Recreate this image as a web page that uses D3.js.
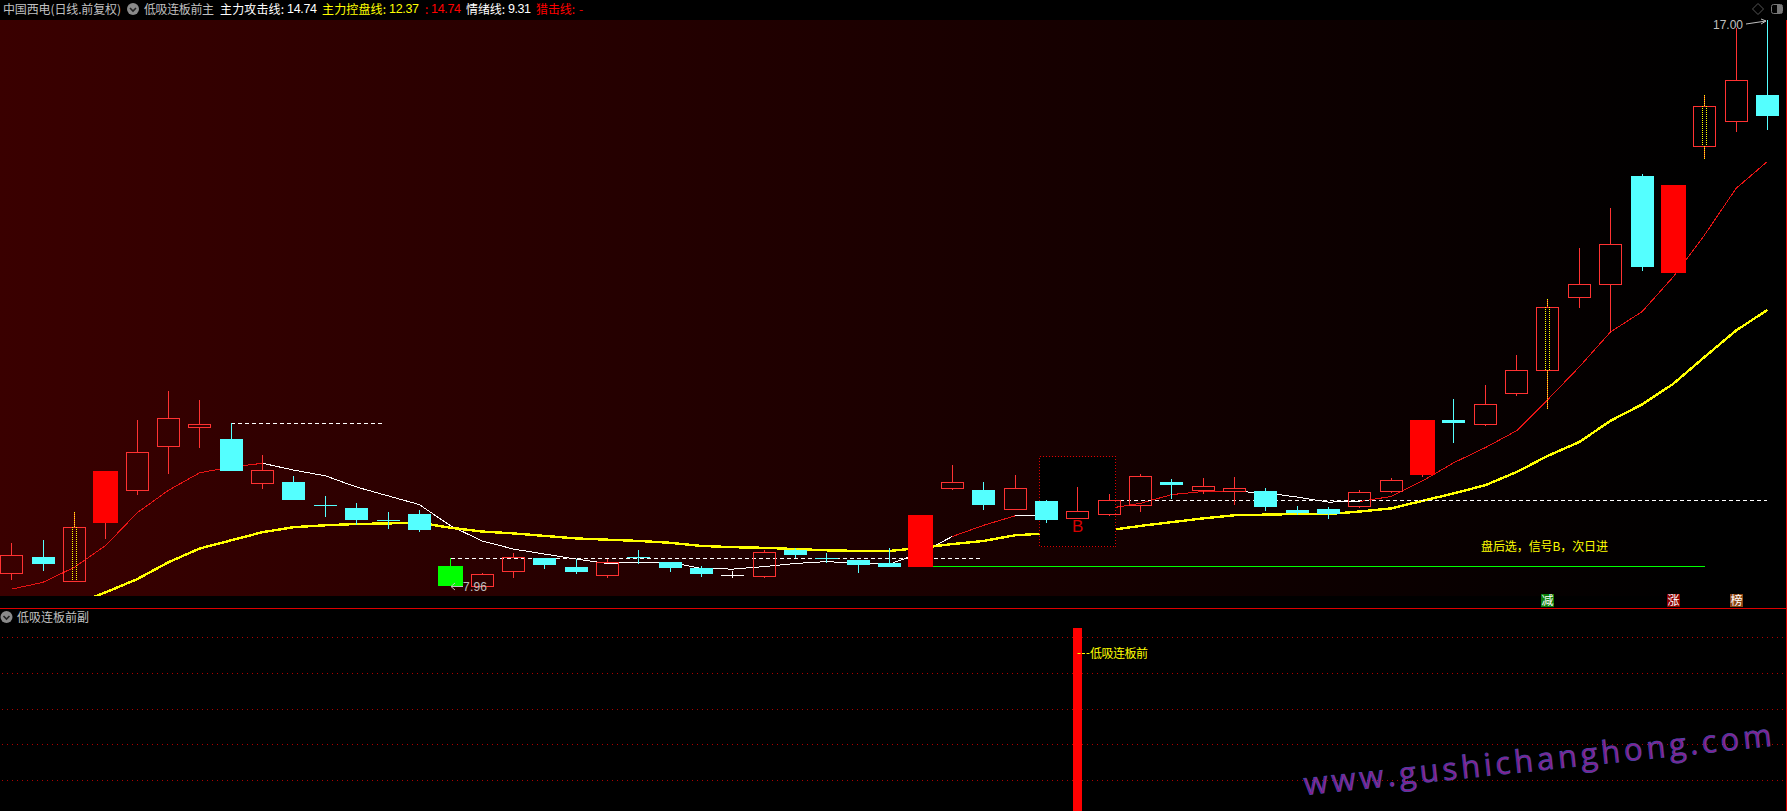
<!DOCTYPE html>
<html>
<head>
<meta charset="utf-8">
<script src="https://cdn.jsdelivr.net/npm/d3@7"></script>
<style>
html,body{margin:0;padding:0;background:#000;overflow:hidden}
svg{display:block}
text{font-family:"Noto Sans CJK SC","Liberation Sans",sans-serif;font-size:12px}
.num{font-family:"Liberation Sans",sans-serif}
</style>
</head>
<body>
<svg id="c" width="1787" height="811"></svg>
<script>
const highs =[8.65,8.69,9.14,9.80,10.61,11.07,10.93,10.56,10.05,9.72,9.40,9.29,9.14,9.17,8.41,8.17,8.49,8.41,8.39,8.39,8.53,8.34,8.28,8.20,8.53,8.57,8.49,8.38,8.57,9.09,9.89,9.62,9.73,9.33,9.54,9.43,9.75,9.67,9.68,9.70,9.53,9.24,9.22,9.49,9.68,10.61,10.95,11.17,11.65,12.54,13.36,14.00,14.54,14.36,15.80,16.87,17.00];
const lows  =[8.07,8.22,8.04,8.73,9.43,9.76,10.18,9.80,9.53,9.33,9.08,8.95,8.89,8.84,7.96,7.96,8.10,8.25,8.17,8.10,8.33,8.20,8.12,8.10,8.10,8.42,8.34,8.18,8.26,8.26,9.51,9.19,9.19,8.98,9.05,9.10,9.16,9.37,9.45,9.27,9.17,9.11,9.05,9.22,9.46,9.72,10.26,10.53,11.01,10.80,12.42,12.02,13.01,12.96,14.80,15.23,15.26];
const bodyTops   =[8.45,8.42,8.90,9.80,10.10,10.64,10.55,10.31,9.81,9.62,9.25,9.21,9.01,9.11,8.28,8.15,8.43,8.41,8.26,8.34,8.42,8.34,8.25,8.13,8.50,8.53,8.40,8.38,8.33,9.09,9.62,9.49,9.52,9.32,9.15,9.33,9.71,9.62,9.55,9.52,9.48,9.17,9.19,9.46,9.65,10.61,10.61,10.86,11.41,12.41,12.79,13.43,14.51,14.36,15.62,16.04,15.80];
const bodyBottoms=[8.17,8.31,8.04,8.97,9.50,10.20,10.50,9.80,9.61,9.33,9.25,9.01,9.01,8.85,7.96,7.96,8.20,8.30,8.18,8.14,8.40,8.25,8.15,8.13,8.12,8.46,8.40,8.30,8.26,8.26,9.53,9.25,9.19,9.01,9.05,9.11,9.26,9.57,9.50,9.48,9.22,9.13,9.11,9.23,9.47,9.73,10.56,10.54,11.05,11.41,12.58,12.79,13.05,12.96,14.99,15.39,15.47];
// 0 = up (hollow red), 1 = down (cyan)
const downDays=[0,1,0,0,0,0,0,1,0,1,1,1,1,1,0,0,0,1,1,0,1,1,1,0,0,1,1,1,1,0,0,1,0,1,0,0,0,1,0,0,1,1,1,0,0,0,1,0,0,0,0,0,1,0,0,0,1];
const limitUpDays=[3,29,45,53];
const highlightDownDays=[14];
const flatDays=[23];
const dottedDays=[2,49,54];

const attackLine=[7.91,8.02,8.26,8.61,9.13,9.49,9.77,9.86,9.92,9.81,9.72,9.54,9.40,9.26,8.92,8.68,8.55,8.47,8.39,8.32,8.34,8.34,8.24,8.23,8.27,8.32,8.35,8.32,8.31,8.49,8.75,8.93,9.08,9.09,9.15,9.20,9.28,9.42,9.47,9.47,9.45,9.38,9.30,9.31,9.39,9.64,9.93,10.17,10.44,10.94,11.46,12.02,12.34,12.90,13.57,14.31,14.74];
const attackWhiteSpans=[[8,30],[32,33],[39,43]];
const controlLine=[null,null,7.66,7.86,8.07,8.34,8.56,8.69,8.82,8.90,8.93,8.95,8.96,8.97,8.89,8.83,8.80,8.76,8.72,8.70,8.68,8.65,8.60,8.58,8.57,8.55,8.53,8.52,8.52,8.57,8.63,8.68,8.77,8.80,8.84,8.85,8.92,8.98,9.04,9.09,9.10,9.11,9.11,9.15,9.20,9.32,9.44,9.57,9.78,10.04,10.26,10.60,10.86,11.19,11.62,12.04,12.37];

const dashedLevels=[[7,11.91,10.56],[14,30.94,8.41],[35.35,56,9.33]];
const supportLevel=[29,54,8.28];
const signalIndex=34;
const signalBoxPrices=[8.60,10.03];
const tagLabels=[[49,"减","#0b7d0b"],[53,"涨","#8b0000"],[55,"榜","#8b4513"]];
const subGridLevels=[0.95,0.755,0.56,0.365,0.17];
const subBarValue=1;
const maxLabel=17.00, minLabel=7.96;

const headerTexts=[
 [3,"中国西电(日线.前复权)","#c0c0c0",118],
 [144,"低吸连板前主","#c0c0c0",70],
 [220,"主力攻击线:","#ffffff",64],
 [287,"14.74","#ffffff",30,1],
 [322,"主力控盘线:","#ffff00",64],
 [389,"12.37","#ffff00",30,1],
 [425,":","#ff0000",3],
 [431,"14.74","#ff0000",30,1],
 [466,"情绪线:","#ffffff",39],
 [508,"9.31","#ffffff",23,1],
 [536,"猎击线:","#ff0000",39],
 [579,"-","#ff0000",4]
];

const svg=d3.select("#c");
const defs=svg.append("defs");
const grad=defs.append("linearGradient").attr("id","bg").attr("gradientUnits","userSpaceOnUse")
  .attr("x1",0).attr("x2",1700).attr("y1",0).attr("y2",0);
grad.append("stop").attr("offset",0).attr("stop-color","#3a0000");
grad.append("stop").attr("offset",1).attr("stop-color","#000000");
defs.append("clipPath").attr("id","plot").append("rect").attr("x",0).attr("y",20).attr("width",1786).attr("height",576);

const x=d3.scaleLinear().domain([0,56]).range([11.8,1767.4]);
const y=d3.scaleLinear().domain([minLabel,maxLabel]).range([586,20]);
const subY=d3.scaleLinear().domain([0,1]).range([811,628]);
const px=i=>Math.floor(x(i))+.5;
const py=v=>Math.round(y(v));

svg.append("rect").attr("width",1787).attr("height",811).attr("fill","#000");
svg.append("rect").attr("x",0).attr("y",20).attr("width",1786).attr("height",576).attr("fill","url(#bg)");

// lines
const plot=svg.append("g").attr("clip-path","url(#plot)");
const lineGen=d3.line().x(d=>x(d[0])).y(d=>y(d[1]));
const isWhite=i=>attackWhiteSpans.some(s=>i>=s[0]&&i<s[1]);
d3.range(attackLine.length-1).forEach(i=>{
  plot.append("path").attr("d",lineGen([[i,attackLine[i]],[i+1,attackLine[i+1]]]))
   .attr("fill","none").attr("stroke",isWhite(i)?"#ffffff":"#e81414").attr("stroke-width",1)
   .attr("shape-rendering","crispEdges");
});
const ctrl=controlLine.map((v,i)=>[i,v]).filter(d=>d[1]!==null);
plot.append("path").attr("d",lineGen(ctrl)).attr("fill","none").attr("stroke","#ffff00")
  .attr("stroke-width",2.4).attr("shape-rendering","crispEdges");

// dashed levels and support
dashedLevels.forEach(d=>{
  plot.append("line").attr("x1",x(d[0])).attr("x2",x(d[1])).attr("y1",py(d[2])+.5).attr("y2",py(d[2])+.5)
   .attr("stroke","#fff").attr("stroke-dasharray","4 3").attr("shape-rendering","crispEdges");
});
plot.append("line").attr("x1",x(supportLevel[0])).attr("x2",x(supportLevel[1]))
  .attr("y1",py(supportLevel[2])+.5).attr("y2",py(supportLevel[2])+.5)
  .attr("stroke","#00ff00").attr("shape-rendering","crispEdges");

// signal box
const boxL=x(signalIndex-1.22), boxR=x(signalIndex+1.22);
plot.append("rect").attr("x",Math.round(boxL)+.5).attr("y",py(signalBoxPrices[1])+.5)
  .attr("width",Math.round(boxR-boxL)).attr("height",py(signalBoxPrices[0])-py(signalBoxPrices[1]))
  .attr("fill","#000").attr("stroke","#e00000").attr("stroke-dasharray","1 2").attr("shape-rendering","crispEdges");

// candles
const cg=plot.append("g").attr("shape-rendering","crispEdges");
highs.forEach((h,i)=>{
  const cx=px(i), t=py(bodyTops[i]), b=py(bodyBottoms[i]), hi=py(h), lo=py(lows[i]);
  const limit=limitUpDays.includes(i), hd=highlightDownDays.includes(i), flat=flatDays.includes(i);
  const down=downDays[i]===1;
  const col=limit?"#ff0000":hd?"#00ff00":flat?"#ffffff":down?"#54ffff":"#ff3232";
  const wick=limit?"#ff3232":col;
  if(hi<t) cg.append("line").attr("x1",cx).attr("x2",cx).attr("y1",hi).attr("y2",t).attr("stroke",wick);
  if(lo>b) cg.append("line").attr("x1",cx).attr("x2",cx).attr("y1",b).attr("y2",lo+1).attr("stroke",wick);
  if(limit||hd){
    cg.append("rect").attr("x",cx-12.5).attr("y",t).attr("width",25).attr("height",b-t).attr("fill",col);
  }else if(down||flat){
    if(b-t<2) cg.append("line").attr("x1",cx-11.5).attr("x2",cx+11.5).attr("y1",t+.5).attr("y2",t+.5).attr("stroke",col);
    else cg.append("rect").attr("x",cx-11.5).attr("y",t).attr("width",23).attr("height",b-t).attr("fill",col);
  }else{
    cg.append("rect").attr("x",cx-11).attr("y",t+.5).attr("width",22).attr("height",b-t)
      .attr("fill","none").attr("stroke",col);
  }
  if(dottedDays.includes(i)){
    [-2,2].forEach(o=>cg.append("line").attr("x1",cx+o).attr("x2",cx+o).attr("y1",t).attr("y2",b)
       .attr("stroke","#ffff00").attr("stroke-dasharray","1 1"));
    cg.append("line").attr("x1",cx).attr("x2",cx).attr("y1",hi).attr("y2",t).attr("stroke","#ffff00").attr("stroke-dasharray","1 1");
    if(lo>b) cg.append("line").attr("x1",cx).attr("x2",cx).attr("y1",b).attr("y2",lo+1).attr("stroke","#ffff00").attr("stroke-dasharray","1 1");
  }
});

// B mark
svg.append("text").attr("x",x(signalIndex)).attr("y",532).attr("text-anchor","middle")
  .attr("class","num").style("font-size","17px").attr("fill","#d80000").text("B");

// labels max/min
const grey="#c0c0c0";
svg.append("text").attr("class","num").attr("x",1713).attr("y",y(maxLabel)+9).attr("fill",grey)
  .style("font-size","12px").attr("textLength",30).text(d3.format(".2f")(maxLabel));
svg.append("path").attr("d",`M1746,${y(maxLabel)+4}L1766,${y(maxLabel)+1}M1761,${y(maxLabel)-1}L1766,${y(maxLabel)+1}L1761,${y(maxLabel)+4}`)
  .attr("fill","none").attr("stroke",grey);
svg.append("text").attr("class","num").attr("x",463).attr("y",y(minLabel)+5).attr("fill",grey)
  .style("font-size","12px").attr("textLength",24).text(d3.format(".2f")(minLabel));
svg.append("path").attr("d",`M463,${y(minLabel)+.5}L451,${y(minLabel)+.5}M455,${y(minLabel)-3}L451,${y(minLabel)+.5}L455,${y(minLabel)+4}`)
  .attr("fill","none").attr("stroke",grey);

// annotation
svg.append("text").attr("x",1481).attr("y",550.5).attr("fill","#ffff00").attr("textLength",127).text("盘后选，信号B，次日进");

// tags
tagLabels.forEach(t=>{
  const cx=px(t[0]);
  svg.append("rect").attr("x",cx-6.5).attr("y",594).attr("width",13).attr("height",13).attr("fill",t[2]);
  svg.append("text").attr("x",cx).attr("y",605).attr("text-anchor","middle").attr("fill","#fff").text(t[1]);
});

// separator + border
svg.append("line").attr("x1",0).attr("x2",1787).attr("y1",608.5).attr("y2",608.5).attr("stroke","#dc0000");
svg.append("line").attr("x1",1786.5).attr("x2",1786.5).attr("y1",20).attr("y2",811).attr("stroke","#dc0000");

// sub-panel
subGridLevels.forEach(v=>{
  svg.append("line").attr("x1",2).attr("x2",1785).attr("y1",Math.round(subY(v))+.5).attr("y2",Math.round(subY(v))+.5)
   .attr("stroke","#b00000").attr("stroke-dasharray","1 4").attr("shape-rendering","crispEdges");
});
svg.append("rect").attr("x",px(signalIndex)-4.5).attr("y",subY(subBarValue)).attr("width",9).attr("height",subY(0)-subY(subBarValue)).attr("fill","#ff0000");
svg.append("line").attr("x1",px(signalIndex)).attr("x2",1090).attr("y1",653.5).attr("y2",653.5).attr("stroke","#ffff00").attr("stroke-dasharray","3 1.5");
svg.append("text").attr("x",1090).attr("y",657.5).attr("fill","#ffff00").attr("textLength",58).text("低吸连板前");

// chevron icons
function chevron(cx,cy){
  svg.append("circle").attr("cx",cx).attr("cy",cy).attr("r",6).attr("fill","#8a8a8a");
  svg.append("path").attr("d",`M${cx-3},${cy-1}L${cx},${cy+2}L${cx+3},${cy-1}`).attr("fill","none").attr("stroke","#222").attr("stroke-width",1.6);
}
chevron(133,9); chevron(6.5,617);

// header
headerTexts.forEach(t=>{
  const n=svg.append("text").attr("x",t[0]).attr("y",13.5).attr("fill",t[2]).attr("textLength",t[3]).text(t[1]);
  if(t[4]) n.attr("class","num").attr("y",13).style("font-size","12.5px");
});
svg.append("text").attr("x",17).attr("y",622).attr("fill",grey).text("低吸连板前副");

// top right icons
svg.append("path").attr("d","M1758,3.5L1763.5,9L1758,14.5L1752.5,9Z").attr("fill","none").attr("stroke","#555");
svg.append("rect").attr("x",1771.5).attr("y",4.5).attr("width",11).attr("height",9).attr("rx",2).attr("fill","none").attr("stroke","#777");
svg.append("rect").attr("x",1777).attr("y",5).attr("width",5).attr("height",8).attr("fill","#777");

// watermark
svg.append("text").attr("transform","translate(1305,795) rotate(-6)")
  .attr("textLength",470).attr("lengthAdjust","spacing")
  .style("font-family","'Open Sans',sans-serif").style("font-size","31px").style("font-weight","500")
  .attr("fill","#8f1c8c").attr("stroke","#4a46a8").attr("stroke-width",0.8)
  .text("www.gushichanghong.com");
</script>
</body>
</html>
